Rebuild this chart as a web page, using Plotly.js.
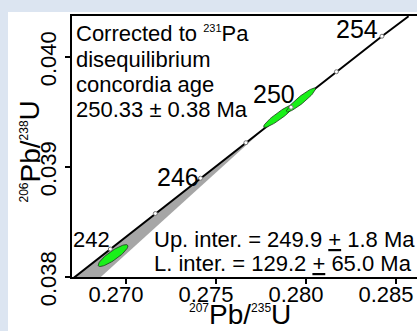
<!DOCTYPE html>
<html><head><meta charset="utf-8">
<script src="https://cdn.plot.ly/plotly-3.0.1.min.js"></script>
<style>
html,body{margin:0;padding:0;background:#ffffff;overflow:hidden;}
#topband{position:absolute;left:0;top:0;width:100%;height:12px;background:#dce5f1;}
#leftband{position:absolute;left:0;top:0;width:8px;height:100%;min-height:331px;background:#dce5f1;}
#chart{position:absolute;left:0;top:0;width:417px;height:331px;}
</style>
</head><body><div id="topband"></div><div id="leftband"></div><div id="chart"></div>
<script>
// ---- data ----
const xTickVals = [0.270, 0.275, 0.280, 0.285];
const xTickText = ['0.270', '0.275', '0.280', '0.285'];
const yTickVals = [0.038, 0.039, 0.040];
const yTickText = ['0.038', '0.039', '0.040'];

// concordia age markers (Ma) and their ratios
const concAges = [242, 244, 246, 248, 250, 252, 254];
const concX = [0.26913, 0.27163, 0.27414, 0.27666, 0.27917, 0.28169, 0.28422];
const concY = [0.038254, 0.038577, 0.038898, 0.039221, 0.039543, 0.039866, 0.040189];
// concordia curve (including where it leaves the frame)
const concLineX = [0.2670, 0.26913, 0.27163, 0.27414, 0.27666, 0.27917, 0.28169, 0.28422, 0.28570];
const concLineY = [0.03798, 0.038254, 0.038577, 0.038898, 0.039221, 0.039543, 0.039866, 0.040189, 0.04037];

// grey uncertainty band below the concordia
const bandX = [0.2670, 0.26913, 0.27163, 0.27414, 0.27666, 0.2779, 0.2686];
const bandY = [0.03798, 0.038254, 0.038577, 0.038898, 0.039221, 0.03938, 0.0380];

// analyses: centre, 2-sigma half extent, correlation
const ellX = [0.26928, 0.27850, 0.27972];
const ellSx = [0.00083, 0.00086, 0.00081];
const ellY = [0.038195, 0.039464, 0.039609];
const ellSy = [0.0000996, 0.000105, 0.000109];
const ellRho = [0.87, 0.93, 0.928];

const labelAges = ['242', '246', '250', '254'];
const sup = (t, s) => '<sup><span style="font-size:' + s + 'px">' + t + '</span></sup>';
const infoLines = ['Corrected to ' + sup('231', 11) + 'Pa', 'disequilibrium', 'concordia age', '250.33 ± 0.38 Ma'];
const interLines = ['Up. inter. = 249.9 <u>+</u> 1.8 Ma', 'L. inter. = 129.2 <u>+</u> 65.0 Ma'];
const xTitle = sup('207', 12) + 'Pb/' + sup('235', 12) + 'U';
const yTitle = sup('206', 12) + 'Pb/' + sup('238', 12) + 'U';

// ---- layout geometry ----
const W = 417, H = 331, ML = 72, MR = 0, MT = 16, MB = 54;
const PW = W - ML - MR, PH = H - MT - MB;
const px2x = p => (p - ML) / PW;
const py2y = p => (H - MB - p) / PH;
const FONT = 'Liberation Sans, Arial, sans-serif';
const XR = [0.267, 0.267 + PW / 18000];
const YR = [0.038, 0.038 + PH / 110000];

const traces = [];
traces.push({
  x: bandX, y: bandY, type: 'scatter', mode: 'lines', fill: 'toself',
  fillcolor: '#a6a6a6', line: {color: '#a6a6a6', width: 0}, hoverinfo: 'skip', showlegend: false
});
traces.push({
  x: concLineX, y: concLineY, type: 'scatter', mode: 'lines',
  line: {color: '#000000', width: 2}, hoverinfo: 'skip', showlegend: false
});
for (let i = 0; i < ellX.length; i++) {
  const ex = [], ey = [];
  const N = 72;
  for (let k = 0; k <= N; k++) {
    const t = 2 * Math.PI * k / N;
    ex.push(ellX[i] + ellSx[i] * Math.cos(t));
    ey.push(ellY[i] + ellSy[i] * (ellRho[i] * Math.cos(t) + Math.sqrt(1 - ellRho[i] * ellRho[i]) * Math.sin(t)));
  }
  traces.push({
    x: ex, y: ey, type: 'scatter', mode: 'lines', fill: 'toself',
    fillcolor: '#19f019', line: {color: '#1a3a1a', width: 0.8}, hoverinfo: 'skip', showlegend: false
  });
}
traces.push({
  x: concX, y: concY, text: concAges.map(String), type: 'scatter', mode: 'markers',
  marker: {size: 4, color: '#ffffff', line: {color: '#777777', width: 1}}, hoverinfo: 'text', showlegend: false
});

const annotations = [];
const labelStyle = [
  {size: 22, xs: 2, ys: 10},
  {size: 25, xs: 0, ys: 1},
  {size: 25, xs: 6, ys: 13},
  {size: 25, xs: -2, ys: 7}
];
labelAges.forEach((a, i) => {
  const idx = concAges.indexOf(Number(a));
  annotations.push({
    x: concX[idx], y: concY[idx], xref: 'x', yref: 'y', text: a, showarrow: false,
    xanchor: 'right', yanchor: 'middle', xshift: labelStyle[i].xs, yshift: labelStyle[i].ys,
    font: {family: FONT, size: labelStyle[i].size, color: '#000'}
  });
});
infoLines.forEach((t, i) => {
  annotations.push({
    x: px2x(74), y: py2y(i === 0 ? 33 : 34.5 + 25 * i), xref: 'paper', yref: 'paper', text: t, showarrow: false,
    xanchor: 'left', yanchor: 'middle', font: {family: FONT, size: 22, color: '#000'}
  });
});
interLines.forEach((t, i) => {
  annotations.push({
    x: px2x(152), y: py2y(239.5 + 23.5 * i), xref: 'paper', yref: 'paper', text: t, showarrow: false,
    xanchor: 'left', yanchor: 'middle', font: {family: FONT, size: 22, color: '#000'}
  });
});
// axis titles
annotations.push({
  x: px2x(240), y: py2y(331), xref: 'paper', yref: 'paper', text: xTitle, showarrow: false,
  xanchor: 'center', yanchor: 'bottom', borderpad: 0, font: {family: FONT, size: 28, color: '#000'}
});
annotations.push({
  x: px2x(30), y: py2y(151.5), xref: 'paper', yref: 'paper', text: yTitle, showarrow: false,
  textangle: -90, xanchor: 'center', yanchor: 'middle', font: {family: FONT, size: 28, color: '#000'}
});

const layout = {
  width: W, height: H,
  margin: {l: ML, r: MR, t: MT, b: MB, pad: 0},
  paper_bgcolor: 'rgba(0,0,0,0)', plot_bgcolor: 'rgba(0,0,0,0)',
  showlegend: false,
  xaxis: {
    range: XR, showgrid: false, zeroline: false,
    showline: true, mirror: true, linecolor: '#000', linewidth: 2,
    ticks: 'outside', ticklen: 5, tickwidth: 1.5, tickcolor: '#000',
    tickvals: xTickVals, ticktext: xTickText, ticklabelshift: -10, ticklabelstandoff: -8,
    tickfont: {family: FONT, size: 22, color: '#000'},
    fixedrange: true, automargin: false
  },
  yaxis: {
    range: YR, showgrid: false, zeroline: false,
    showline: true, mirror: false, linecolor: '#000', linewidth: 2,
    ticks: 'outside', ticklen: 5, tickwidth: 1.5, tickcolor: '#000',
    tickvals: yTickVals, ticktext: yTickText, tickangle: -90, ticklabelshift: 5,
    tickfont: {family: FONT, size: 22, color: '#000'},
    fixedrange: true, automargin: false
  },
  annotations: annotations
};

Plotly.newPlot('chart', traces, layout, {displayModeBar: false, staticPlot: true});
</script>
</body></html>
